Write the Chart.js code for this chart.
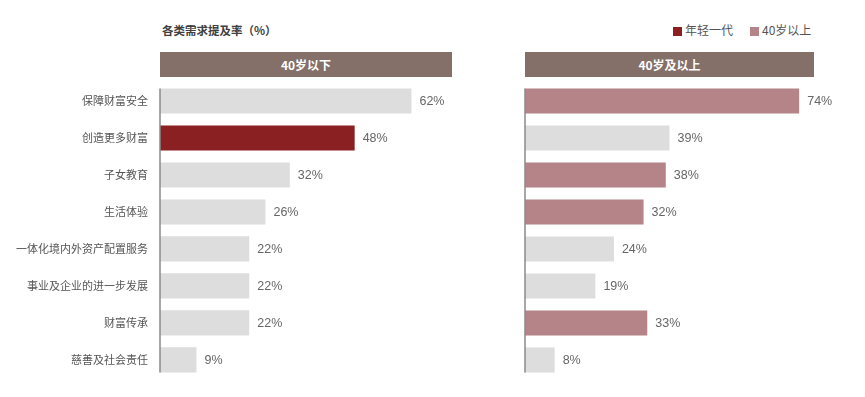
<!DOCTYPE html>
<html lang="zh">
<head>
<meta charset="UTF-8">
<title>各类需求提及率</title>
<script src="https://cdn.jsdelivr.net/npm/chart.js"></script>
<style>
  body {
    margin: 0;
    width: 865px;
    height: 397px;
    position: relative;
    background: #fff;
    font-family: "Noto Sans CJK SC", "Noto Sans", sans-serif;
    overflow: hidden;
  }
  .title {
    position: absolute;
    left: 162px;
    top: 22px;
    font-size: 11.5px;
    font-weight: bold;
    color: #404040;
  }
  .band {
    position: absolute;
    top: 52px;
    height: 25px;
    line-height: 25px;
    background: #846f69;
    color: #fff;
    font-size: 12px;
    font-weight: bold;
    text-align: center;
  }
  .legend {
    position: absolute;
    top: 21px;
    font-size: 12px;
    color: #555;
    white-space: nowrap;
  }
  .legend i {
    display: inline-block;
    width: 9px;
    height: 9px;
    margin-right: 3px;
    vertical-align: -1px;
  }
  canvas { position: absolute; top: 0; }
</style>
</head>
<body>
  <div class="title">各类需求提及率（%）</div>
  <div class="legend" style="left:673px"><i style="background:#8b2023"></i>年轻一代</div>
  <div class="legend" style="left:750px"><i style="background:#b48488"></i>40岁以上</div>
  <div class="band" style="left:160px;width:292px">40岁以下</div>
  <div class="band" style="left:525px;width:289px">40岁及以上</div>
  <canvas id="leftChart" width="460" height="397" style="left:0;width:460px;height:397px"></canvas>
  <canvas id="rightChart" width="345" height="397" style="left:520px;width:345px;height:397px"></canvas>

<script>
// data
const categories = ['保障财富安全', '创造更多财富', '子女教育', '生活体验', '一体化境内外资产配置服务', '事业及企业的进一步发展', '财富传承', '慈善及社会责任'];
const under40 = [62, 48, 32, 26, 22, 22, 22, 9];
const over40 = [74, 39, 38, 32, 24, 19, 33, 8];
const under40Highlight = [false, true, false, false, false, false, false, false];
const over40Highlight = [true, false, true, true, false, false, true, false];

const GRAY = '#dcdddc';
const RED = '#8b2023';
const MAUVE = '#b48488';
const FONT = '"Noto Sans CJK SC", "Noto Sans", sans-serif';

// value labels at end of bars + axis line spanning the bars
const barExtras = {
  id: 'barExtras',
  afterDatasetsDraw(chart) {
    const ctx = chart.ctx;
    const bars = chart.getDatasetMeta(0).data;
    ctx.save();
    ctx.font = '12.5px "Liberation Sans", Arial, sans-serif';
    ctx.fillStyle = '#666';
    ctx.textAlign = 'left';
    ctx.textBaseline = 'middle';
    bars.forEach((bar, i) => {
      ctx.fillText(chart.data.datasets[0].data[i] + '%', bar.x + 8, bar.y + 1);
    });
    const first = bars[0], last = bars[bars.length - 1];
    const x = chart.chartArea.left;
    ctx.strokeStyle = '#8a8a8a';
    ctx.lineWidth = 1.5;
    ctx.beginPath();
    ctx.moveTo(x, first.y - first.height / 2);
    ctx.lineTo(x, last.y + last.height / 2);
    ctx.stroke();
    ctx.restore();
  }
};

function makeChart(id, values, highlight, hiColor, max, axisWidth, padRight, showLabels) {
  return new Chart(document.getElementById(id), {
    type: 'bar',
    data: {
      labels: categories,
      datasets: [{
        data: values,
        backgroundColor: highlight.map(h => h ? hiColor : GRAY),
        borderWidth: 0,
        barPercentage: 0.68,
        categoryPercentage: 1
      }]
    },
    options: {
      indexAxis: 'y',
      responsive: false,
      animation: false,
      layout: { padding: { top: 82.5, bottom: 18.5, left: 0, right: padRight } },
      plugins: { legend: { display: false }, tooltip: { enabled: false } },
      scales: {
        x: { display: false, min: 0, max: max },
        y: {
          afterFit(axis) { axis.width = axisWidth; },
          border: { display: false },
          grid: { display: false, drawTicks: false },
          ticks: {
            display: showLabels,
            padding: 12,
            color: '#555',
            font: { family: FONT, size: 11 }
          }
        }
      }
    },
    plugins: [barExtras]
  });
}

makeChart('leftChart', under40, under40Highlight, RED, 72, 160, 8, true);
makeChart('rightChart', over40, over40Highlight, MAUVE, 78, 5, 51, false);
</script>
</body>
</html>
